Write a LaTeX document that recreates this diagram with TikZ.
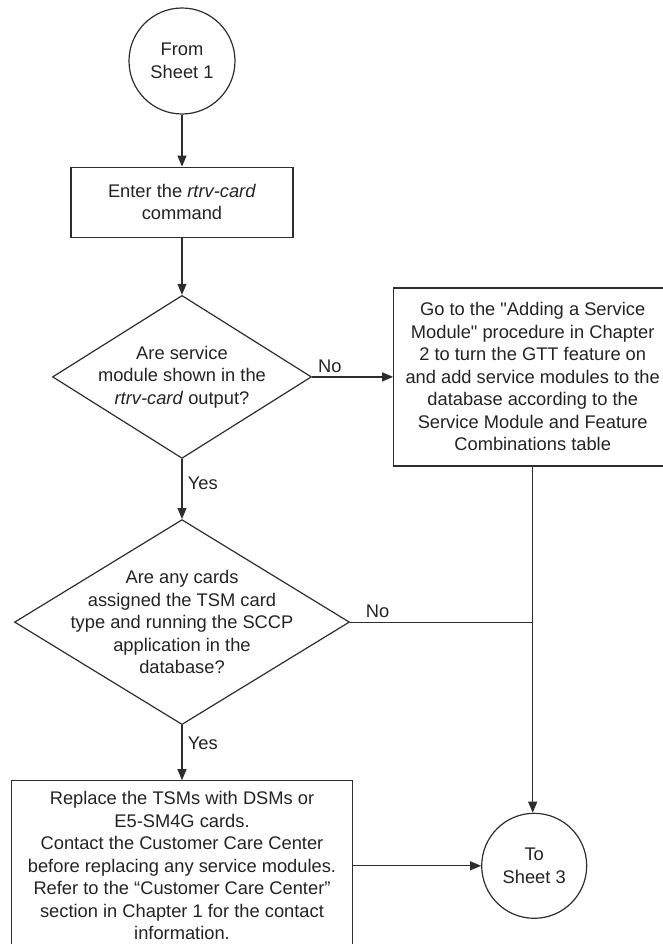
\documentclass[tikz,border=0pt]{standalone}
\usepackage{fontspec}
\setmainfont{Liberation Sans}
\usetikzlibrary{shapes.geometric, arrows.meta, positioning}
\definecolor{linegray}{RGB}{45,45,45}
\definecolor{textgray}{RGB}{35,35,35}
\newcommand{\fcfont}{\fontsize{18.3}{22.5}\selectfont}
\tikzset{
  connector/.style={circle, draw=linegray, line width=1.2pt, minimum size=106pt,
                    inner sep=0pt, align=center, font=\fcfont, text=textgray},
  stepbox/.style={rectangle, draw=linegray, line width=1.2pt, inner sep=0pt,
                  align=center, font=\fcfont, text=textgray},
  decision/.style={diamond, draw=linegray, line width=1.2pt, inner sep=0pt},
  qtext/.style={align=center, inner sep=0pt, font=\fcfont, text=textgray},
  lbl/.style={font=\fcfont, text=textgray},
  arrow/.style={-{Triangle[length=11pt, width=9pt]}, line width=1.2pt, draw=linegray},
  plainline/.style={line width=1.2pt, draw=linegray},
}

\begin{document}
\begin{tikzpicture}

  \useasboundingbox (-182pt,61pt) rectangle (481pt,-883pt);

  % -- Main column --------------------------------------------------------
  \node[connector] (start) {From\\Sheet 1};

  \node[stepbox, minimum width=222pt, minimum height=70pt,
        below=52pt of start] (enter)
    {Enter the \textit{rtrv-card}\\command};

  \node[decision, minimum width=259pt, minimum height=163pt,
        below=57pt of enter] (q1) {};
  \node[qtext] (q1txt) at (q1)
    {Are service\\module shown in the\\\textit{rtrv-card} output?};

  \node[decision, minimum width=335pt, minimum height=205pt,
        below=60pt of q1] (q2) {};
  \node[qtext] (q2txt) at (q2)
    {Are any cards\\assigned the TSM card\\type and running the SCCP\\application in the\\database?};

  \node[stepbox, minimum width=341pt, minimum height=170pt,
        below=55pt of q2] (replace)
    {Replace the TSMs with DSMs or\\E5-SM4G cards.\\Contact the Customer Care Center\\before replacing any service modules.\\Refer to the “Customer Care Center”\\section in Chapter 1 for the contact\\information.};

  % -- Right column -------------------------------------------------------
  \node[stepbox, minimum width=278pt, minimum height=178pt,
        right=81pt of q1] (addsm)
    {Go to the \textquotedbl Adding a Service\\Module\textquotedbl{} procedure in Chapter\\2 to turn the GTT feature on\\and add service modules to the\\database according to the\\Service Module and Feature\\Combinations table};

  \node[connector, minimum size=105pt, right=128pt of replace] (end) {To\\Sheet 3};

  % -- Connectors ---------------------------------------------------------
  \draw[arrow] (start) -- (enter);
  \draw[arrow] (enter) -- (q1.north);
  \draw[arrow] (q1.south) -- node[lbl, right, pos=0.4, xshift=2pt] {Yes} (q2.north);
  \draw[arrow] (q2.south) -- node[lbl, right, pos=0.33, xshift=2pt] {Yes} (replace.north);
  \draw[arrow] (q1.east) -- node[lbl, above, pos=0.22] {No} (addsm.west);
  \draw[plainline] (q2.east) -- node[lbl, above, pos=0.15] {No} (q2.east -| addsm.south);
  \draw[arrow] (addsm.south) -- (addsm.south |- end.north);
  \draw[arrow] (replace) -- (end);

\end{tikzpicture}
\end{document}
